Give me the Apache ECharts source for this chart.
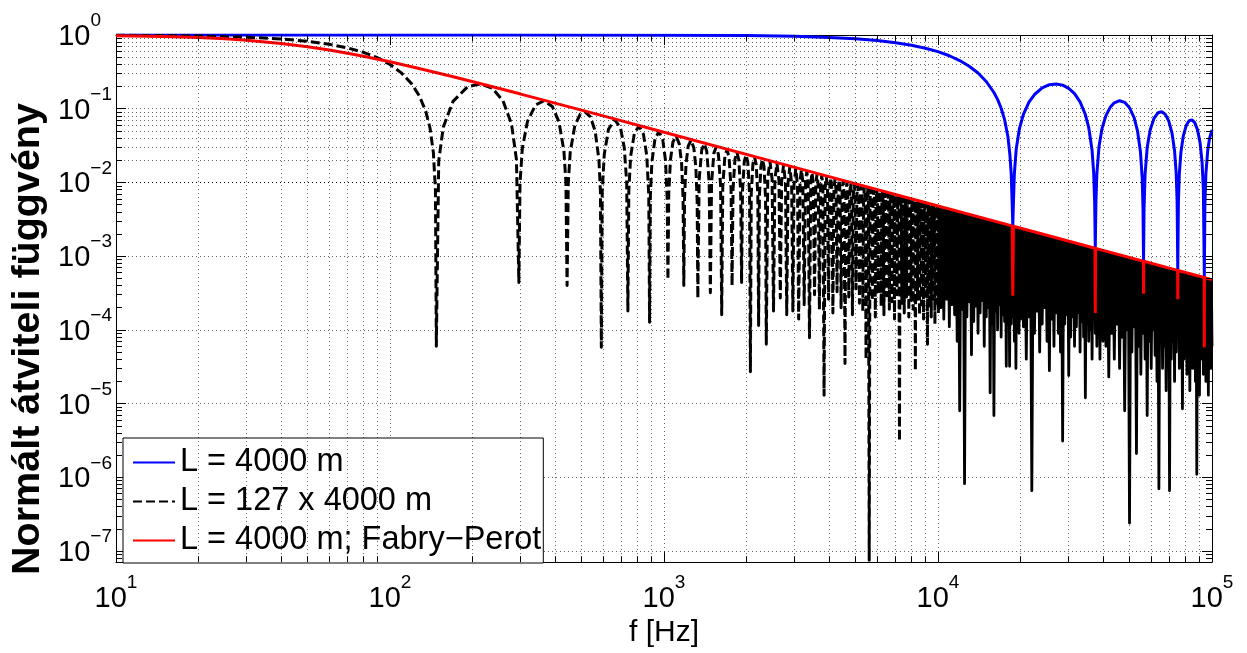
<!DOCTYPE html>
<html><head><meta charset="utf-8">
<script src="https://cdn.jsdelivr.net/npm/echarts@6/dist/echarts.min.js"></script>
<style>html,body{margin:0;padding:0;background:#fff}#c{width:1247px;height:653px}</style>
</head><body><div id="c"></div>
<script>
const FONT = '"Liberation Sans", Arial, Helvetica, sans-serif';

// ---------- text ----------
const legendNames = ['L = 4000 m', 'L = 127 x 4000 m', 'L = 4000 m; Fabry\u2212Perot'];
const xTitle = 'f [Hz]';
const yTitle = 'Normált átviteli függvény';
const xRange = [10, 1e5];
const yRange = [7.08e-8, 1];
const minorMultipliers = [2, 3, 4, 5, 6, 7, 8, 9];
const xDecades = [1, 2, 3, 4];
const yDecades = [-8, -7, -6, -5, -4, -3, -2, -1];

// ---------- data: [f (Hz), value] ----------
const blueLine = [
[10,1],[300,0.9999],[1000,0.9953],[2000,0.981],[3000,0.958],[4000,0.927],[5000,0.887],[6000,0.84],[7000,0.786],[8000,0.726],[9000,0.662],[10000,0.594],[11000,0.523],[12000,0.45],[13000,0.377],[14000,0.305],[15000,0.234],[16000,0.166],[16500,0.134],[17000,0.1015],[17500,0.071],[18000,0.0416],[18300,0.0237],[18500,0.0131],[18650,0.0052],[18750,0.0026],
[18850,0.0053],[19000,0.0132],[19300,0.0285],[19800,0.0528],[20500,0.0841],[21500,0.1234],[22500,0.1559],[24000,0.1916],[25500,0.2118],[27000,0.2171],[28500,0.209],[30000,0.1892],[31500,0.16],[33000,0.1238],[34500,0.0834],[35500,0.0553],[36500,0.0273],[37000,0.0135],[37300,0.0054],[37500,0.0013],
[37700,0.0053],[38000,0.0132],[38700,0.0308],[39700,0.0542],[41000,0.0805],[42500,0.1044],[44000,0.1202],[46000,0.1284],[48000,0.1221],[50000,0.1034],[52000,0.0751],[53500,0.0496],[54800,0.0262],[55600,0.0117],[56000,0.0045],[56250,0.00086],
[56500,0.0044],[57000,0.0131],[58000,0.0297],[59500,0.052],[61500,0.0748],[63500,0.0881],[65500,0.0911],[67500,0.0841],[69500,0.0684],[71500,0.0462],[73000,0.0269],[74000,0.0135],[74600,0.0054],[75000,0.00065],
[75400,0.0053],[76000,0.0131],[77000,0.0255],[78500,0.0421],[80500,0.0591],[82500,0.0688],[84500,0.0706],[86500,0.0647],[88500,0.052],[90500,0.0342],[92000,0.0188],[93000,0.008],[93750,0.00052],
[94200,0.0048],[95000,0.0131],[96500,0.0275],[98000,0.0398],[100000,0.0517]
];

const blackLobes = [
[10,0.9925],[20,0.9701],[30,0.9334],[40,0.8838],[50,0.822],[60,0.7497],[70,0.6691],[80,0.5824],[90,0.4916],[100,0.3989],[110,0.3066],[120,0.2172],[128,0.1491],[135,0.0926],[140,0.0544],[144,0.0253],[146.5,0.0078],[147.6,6e-5],
[150.6,0.0196],[156.5,0.0563],[169.8,0.1257],[191.9,0.1981],[214.1,0.2168],[236.2,0.1892],[258.4,0.1286],[277.6,0.0623],[289.4,0.0204],[295.3,4.4e-4],
[298.2,0.0099],[304.1,0.029],[317.4,0.0672],[339.6,0.112],[364.7,0.1283],[391.3,0.107],[413.4,0.0668],[431.1,0.0271],[438.5,0.0101],[442.9,4.0e-4],
[447.4,0.00989],[454.7,0.0257],[472.4,0.0585],[494.6,0.0847],[513.8,0.0913],[538.9,0.0777],[561.0,0.0492],[578.8,0.0202],[586.1,0.00755],[590.6,5.8e-5],
[595,0.00743],[605.3,0.024],[627.5,0.053],[661.4,0.0709],[693.9,0.0548],[716.1,0.0298],[730.8,0.01006],[738.2,1.8e-4],
[744.1,0.00791],[755.9,0.0229],[779.5,0.0464],[810.5,0.058],[841.5,0.0452],[865.2,0.0231],[879.9,0.00669],[885.8,1.27e-4],
[891.7,0.0066],[903.6,0.01915],[927.2,0.0391],[958.2,0.049],[989.2,0.0384],[1012.8,0.01976],[1027.6,0.00573],[1033.5,4.8e-4],
[1040.9,0.00706],[1055.6,0.0202],[1077.8,0.0353],[1107.3,0.0424],[1136.8,0.0334],[1159,0.0184],[1173.7,0.00626],[1181.1,4.0e-4],
[1188.5,0.00618],[1203.3,0.01773],[1225.4,0.031],[1254.9,0.0374],[1284.5,0.0296],[1306.6,0.01633],[1321.4,0.00556],[1328.8,2.7e-4],
[1343.5,0.01081],[1373.1,0.0277],[1402.6,0.0335],[1432.1,0.02655],[1461.6,0.00994],[1476.4,3.2e-4],
[1491.2,0.00974],[1520.7,0.025],[1550.2,0.0303],[1579.7,0.0241],[1609.3,0.00902],[1624,1.6e-4],
[1638.8,0.00886],[1668.3,0.0228],[1697.9,0.0277],[1727.4,0.022],[1756.9,0.00827],[1771.7,4.0e-4],
[1786.4,0.00813],[1816,0.0209],[1845.5,0.0255],[1875,0.0203],[1904.5,0.00762],[1919.3,4.4e-4],
[1934.1,0.00751],[1963.6,0.01936],[1993.1,0.0236],[2022.7,0.0188],[2052.2,0.00708],[2067,2.7e-5],
[2081.7,0.00698],[2111.3,0.018],[2140.8,0.022],[2170.3,0.01752],[2199.8,0.0066],[2214.6,1.15e-4],
[2229.4,0.00651],[2258.9,0.01683],[2288.4,0.02054],[2318,0.0164],[2347.5,0.00619],[2362.2,6.4e-5],
[2391.8,0.01155],[2436.1,0.01929],[2480.4,0.01114],[2509.9,1.8e-4],
[2539.4,0.01088],[2583.7,0.01819],[2628,0.01051],[2657.5,2.7e-4],
[2687,0.01028],[2731.3,0.01721],[2775.6,0.00995],[2805.2,1.6e-4],
[2834.7,0.00974],[2879,0.01632],[2923.3,0.00945],[2952.8,1.8e-4],
[2982.3,0.00926],[3026.6,0.01553],[3070.9,0.009],[3100.4,1.4e-4]
];

const blackMid = [
[3137.4,0.01059],[3174.3,0.01481],[3211.2,0.01035],[3248.1,2.2e-4],
[3285.0,0.01012],[3321.9,0.01415],[3358.8,0.00989],[3395.7,7.8e-5],
[3432.6,0.00968],[3469.5,0.01355],[3506.4,0.00948],[3543.4,3.0e-4],
[3580.3,0.00928],[3617.2,0.01299],[3654.1,0.00909],[3691.0,1.9e-4],
[3727.9,0.00891],[3764.8,0.01248],[3801.7,0.00874],[3838.6,1.3e-5],
[3875.6,0.00858],[3912.5,0.01201],[3949.4,0.00841],[3986.3,2.6e-4],
[4023.2,0.00826],[4060.1,0.01157],[4097.0,0.00811],[4133.9,1.7e-4],
[4170.8,0.00797],[4207.7,0.01117],[4244.7,0.00783],[4281.6,3.3e-4],
[4318.5,0.0077],[4355.4,0.01079],[4392.3,0.00757],[4429.2,2.0e-4],
[4466.1,0.00744],[4503.0,0.01044],[4540.0,0.00732],[4576.8,3.5e-5],
[4613.8,0.0072],[4650.7,0.01011],[4687.6,0.00709],[4724.5,2.8e-4],
[4761.4,0.00698],[4798.3,0.00979],[4835.2,0.00687],[4872.1,1.6e-4],
[4909.0,0.00677],[4945.9,0.0095],[4982.9,0.00667],[5019.8,3.6e-4],
[5056.7,0.00657],[5093.6,0.00923],[5130.5,0.00648],[5167.4,2.3e-4],
[5204.3,0.00639],[5241.2,0.00897],[5278.1,0.0063],[5315.0,1.8e-4],
[5351.9,0.00621],[5388.9,0.00872],[5425.8,0.00613],[5462.7,4.0e-5],
[5499.6,0.00604],[5536.5,0.00849],[5573.4,0.00596],[5610.3,7.5e-8],
[5647.2,0.00589],[5684.1,0.00827],[5721.1,0.00581],[5758.0,2.5e-4],
[5794.9,0.00574],[5831.8,0.00806],[5868.7,0.00566],[5905.6,1.5e-4],
[5942.5,0.00559],[5979.4,0.00786],[6016.3,0.00552],[6053.2,3.1e-4],
[6090.2,0.00546],[6127.1,0.00767],[6164.0,0.00539],[6200.9,2.1e-4],
[6237.8,0.00533],[6274.7,0.00749],[6311.6,0.00527],[6348.5,1.6e-4],
[6385.4,0.0052],[6422.3,0.00732],[6459.3,0.00515],[6496.2,2.9e-4],
[6533.1,0.00509],[6570.0,0.00715],[6606.9,0.00503],[6643.8,1.9e-4],
[6680.7,0.00497],[6717.6,0.007],[6754.5,0.00492],[6791.4,2.4e-4],
[6828.4,0.00487],[6865.3,0.00685],[6902.2,0.00481],[6939.1,1.4e-4],
[6976.0,0.00476],[7012.9,0.0067],[7049.8,0.00471],[7086.7,3.0e-4],
[7123.6,0.00467],[7160.5,0.00656],[7197.5,0.00462],[7234.4,3.1e-6],
[7271.3,0.00457],[7308.2,0.00643],[7345.1,0.00452],[7382.0,2.2e-4],
[7418.9,0.00448],[7455.8,0.0063],[7492.7,0.00444],[7529.6,1.7e-4],
[7566.6,0.00439],[7603.5,0.00618],[7640.4,0.00435],[7677.3,2.8e-4],
[7714.2,0.00431],[7751.1,0.00606],[7788.0,0.00427],[7824.9,1.5e-4],
[7861.8,0.00423],[7898.7,0.00595],[7935.7,0.00419],[7972.6,2.5e-4],
[8009.5,0.00415],[8046.4,0.00584],[8083.3,0.00411],[8120.2,1.9e-4],
[8157.1,0.00407],[8194.0,0.00574],[8230.9,0.00404],[8267.8,2.8e-5],
[8304.8,0.004],[8341.7,0.00563],[8378.6,0.00397],[8415.5,2.6e-4],
[8452.4,0.00393],[8489.3,0.00554],[8526.2,0.0039],[8563.1,1.6e-4],
[8600.0,0.00386],[8636.9,0.00544],[8673.9,0.00383],[8710.8,2.2e-4],
[8747.7,0.0038],[8784.6,0.00535],[8821.5,0.00377],[8858.4,1.4e-4],
[8895.3,0.00374],[8932.2,0.00526],[8969.1,0.00371],[9006.0,2.9e-4],
[9043.0,0.00368],[9079.9,0.00518],[9116.8,0.00365],[9153.7,6.4e-5],
[9190.6,0.00362],[9227.5,0.00509],[9264.4,0.00359],[9301.3,2.0e-4],
[9338.2,0.00356],[9375.1,0.00501],[9412.1,0.00353],[9449.0,1.5e-4],
[9485.9,0.0035],[9522.8,0.00493],[9559.7,0.00348],[9596.6,2.6e-4],
[9633.5,0.00345],[9670.4,0.00486],[9707.3,0.00342],[9744.2,1.2e-4],
[9781.2,0.0034],[9818.1,0.00479],[9855.0,0.00337],[9891.9,2.3e-4],
[9928.8,0.00335],[9965.7,0.00472],[10002.6,0.00332],[10039.5,1.7e-4]
];

const blackDense = [
[10039.5,1.7e-4],
[10125,4.64e-3],[10250,2.0e-4],[10375,4.53e-3],[10500,1.4e-4],[10625,4.42e-3],[10750,2.6e-4],[10875,4.32e-3],[11000,1.1e-4],
[11125,4.22e-3],[11250,2.2e-4],[11375,4.13e-3],[11500,1.6e-4],[11625,4.04e-3],[11750,7e-5],[11875,3.96e-3],[12000,8e-6],
[12125,3.88e-3],[12250,1.9e-4],[12375,3.8e-3],[12500,8.2e-7],[12625,3.72e-3],[12750,1.5e-4],[12875,3.65e-3],[13000,2.4e-4],
[13125,3.58e-3],[13250,4.6e-5],[13375,3.51e-3],[13500,1.3e-4],[13625,3.45e-3],[13750,2.1e-4],[13875,3.39e-3],[14000,9e-5],
[14125,3.33e-3],[14250,1.7e-4],[14375,3.27e-3],[14500,2.5e-4],[14625,3.21e-3],[14750,6e-5],[14875,3.16e-3],[15000,1.5e-4],
[15125,3.11e-3],[15250,2.0e-4],[15375,3.06e-3],[15500,1.4e-5],[15625,3.01e-3],[15750,1.2e-4],[15875,2.96e-3],[16000,6.9e-6],
[16125,2.91e-3],[16250,1.8e-4],[16375,2.87e-3],[16500,1.0e-4],[16625,2.83e-3],[16750,2.2e-4],[16875,2.79e-3],[17000,8e-5],
[17125,2.74e-3],[17250,1.6e-4],[17375,2.71e-3],[17500,1.3e-4],[17625,2.67e-3],[17750,3.2e-5],[17875,2.63e-3],[18000,1.9e-4],
[18125,2.59e-3],[18250,3.2e-5],[18375,2.56e-3],[18500,1.2e-4],[18625,2.52e-3],[18750,1.5e-4],[18875,2.49e-3],[19000,7e-5],
[19125,2.46e-3],[19250,3.0e-5],[19375,2.43e-3],[19500,1.6e-4],[19625,2.39e-3],[19750,9e-5],[19875,2.36e-3],[20000,1.4e-4],
[20250,2.32e-3],[20500,1.1e-4],[20750,2.27e-3],[21000,4e-5],[21250,2.21e-3],[21500,1.5e-4],[21750,2.16e-3],[22000,6.6e-7],
[22250,2.11e-3],[22500,9e-5],[22750,2.07e-3],[23000,1.8e-4],[23250,2.02e-3],[23500,5e-5],[23750,1.98e-3],[24000,1.2e-4],
[24250,1.94e-3],[24500,2.0e-4],[24750,1.9e-3],[25000,7e-5],[25250,1.86e-3],[25500,2.8e-5],[25750,1.83e-3],[26000,1.4e-4],
[26250,1.79e-3],[26500,6e-5],[26750,1.76e-3],[27000,1.7e-4],[27250,1.72e-3],[27500,9e-5],[27750,1.69e-3],[28000,5e-5],
[28250,1.66e-3],[28500,3.1e-6],[28750,1.63e-3],[29000,1.2e-4],[29250,1.61e-3],[29500,1.6e-4],[29750,1.58e-3],[30000,2.4e-5],
[30250,1.55e-3],[30500,8e-5],[30750,1.53e-3],[31000,1.5e-4],[31250,1.5e-3],[31500,6e-5],[31750,1.48e-3],[32000,1.1e-4],
[32250,1.46e-3],[32500,1.7e-4],[32750,1.44e-3],[33000,5e-5],[33250,1.41e-3],[33500,1.3e-4],[33750,1.39e-3],[34000,8e-5],
[34250,1.37e-3],[34500,1.2e-5],[34750,1.35e-3],[35000,1.4e-4],[35250,1.33e-3],[35500,7e-5],[35750,1.31e-3],[36000,1.0e-4],
[36250,1.3e-3],[36500,4e-5],[36750,1.28e-3],[37000,1.5e-4],[37250,1.26e-3],[37500,9e-5],[37750,1.25e-3],[38000,6e-5],
[38250,1.23e-3],[38500,1.3e-4],[38750,1.21e-3],[39000,4e-5],[39250,1.2e-3],[39500,1.1e-4],[39750,1.18e-3],[40000,7e-5],
[40500,1.16e-3],[41000,6e-5],[41500,1.13e-3],[42000,2.3e-5],[42500,1.11e-3],[43000,9e-5],[43500,1.08e-3],[44000,4e-5],
[44500,1.06e-3],[45000,1.2e-4],[45500,1.03e-3],[46000,3e-5],[46500,1.01e-3],[47000,8e-5],[47500,9.9e-4],[48000,8e-6],
[48500,9.7e-4],[49000,1.0e-4],[49500,9.5e-4],[50000,2.4e-7],[50500,9.3e-4],[51000,5e-5],[51500,9.1e-4],[52000,1.1e-4],
[52500,8.95e-4],[53000,2.1e-6],[53500,8.8e-4],[54000,6e-5],[54500,8.6e-4],[55000,2.5e-5],[55500,8.5e-4],[56000,9e-5],
[56500,8.3e-4],[57000,4e-5],[57500,8.2e-4],[58000,6.9e-6],[58500,8.0e-4],[59000,7e-5],[59500,7.9e-4],[60000,3e-5],
[60500,7.8e-4],[61000,1.0e-4],[61500,7.6e-4],[62000,4.5e-5],[62500,7.5e-4],[63000,2e-5],[63500,7.4e-4],[64000,7e-7],
[64500,7.3e-4],[65000,8e-5],[65500,7.2e-4],[66000,3e-5],[66500,7.1e-4],[67000,6e-5],[67500,7.0e-4],[68000,1.5e-5],
[68500,6.9e-4],[69000,9e-5],[69500,6.8e-4],[70000,6.6e-7],[70500,6.7e-4],[71000,4e-5],[71500,6.6e-4],[72000,7e-5],
[72500,6.5e-4],[73000,2e-5],[73500,6.4e-4],[74000,5e-5],[74500,6.3e-4],[75000,8e-5],[75500,6.2e-4],[76000,3e-5],
[76500,6.15e-4],[77000,6e-5],[77500,6.1e-4],[78000,8.5e-6],[78500,6.0e-4],[79000,4e-5],[79500,5.9e-4],[80000,7e-5],
[80500,5.85e-4],[81000,2.5e-5],[81500,5.8e-4],[82000,5e-5],[82500,5.7e-4],[83000,1.5e-5],[83500,5.6e-4],[84000,6e-5],
[84500,5.55e-4],[85000,3e-5],[85500,5.5e-4],[86000,8e-5],[86500,5.45e-4],[87000,2e-5],[87500,5.4e-4],[88000,1.1e-6],
[88500,5.3e-4],[89000,5e-5],[89500,5.25e-4],[90000,1.3e-5],[90500,5.2e-4],[91000,4e-5],[91500,5.15e-4],[92000,6e-5],
[92500,5.1e-4],[93000,2.5e-5],[93500,5.0e-4],[94000,5e-5],[94500,4.97e-4],[95000,2e-5],[95500,4.92e-4],[96000,4e-5],
[96500,4.87e-4],[97000,1.3e-5],[97500,4.82e-4],[98000,5e-5],[98500,4.77e-4],[99000,3e-5],[99500,4.72e-4],[100000,6e-5]
];

const redLine = [
[10,0.977],[15,0.954],[20,0.923],[25,0.887],[30,0.848],[40,0.768],[50,0.692],[60,0.625],[70,0.566],[80,0.515],[100,0.433],[130,0.346],[170,0.272],[220,0.213],[300,0.158],[400,0.119],[600,0.08],[1000,0.048],[3000,0.016],[10000,0.0048],
[18650,0.002574],[18750,2.9e-4],[18850,0.002546],[37400,0.001283],[37500,1.7e-4],[37600,0.001277],[56150,8.55e-4],[56250,3.1e-4],[56350,8.52e-4],
[74900,6.41e-4],[75000,2.6e-4],[75100,6.39e-4],[93650,5.13e-4],[93750,5.8e-5],[93850,5.11e-4],[100000,4.8e-4]
];

// ---------- helpers ----------
function expOf(v) {
  const e = Math.log10(v), r = Math.round(e);
  return Math.abs(e - r) > 1e-6 ? null : r;
}
function xLabel(v) {
  const r = expOf(v);
  if (r === null) return '';
  return '{b|10}{s|' + (r < 0 ? '\u2212' + (-r) : String(r)) + '}';
}
function yLabel(v) {
  const r = expOf(v);
  if (r === null) return '';
  return r < 0 ? '{b|10}{s|\u2212' + (-r) + '}' : '{b|10}{sp|' + r + '}';
}
const rich = {
  b: {fontSize: 29, fontFamily: FONT, color: '#000', lineHeight: 40, verticalAlign: 'bottom'},
  s: {fontSize: 19, fontFamily: FONT, color: '#000', lineHeight: 19, verticalAlign: 'top'},
  sp: {fontSize: 19, fontFamily: FONT, color: '#000', lineHeight: 19, verticalAlign: 'top', padding: [0, 11, 0, 0]}
};
const dotted = {color: '#000', width: 1, type: [1, 3], opacity: 0.6};

const xMinor = [], yMinor = [];
xDecades.forEach(d => minorMultipliers.forEach(m => xMinor.push(m * Math.pow(10, d))));
yDecades.forEach(d => minorMultipliers.forEach(m => { const v = m * Math.pow(10, d); if (v > yRange[0]) yMinor.push(v); }));

const gridLines = xMinor.map(v => ({xAxis: v})).concat(yMinor.map(v => ({yAxis: v})));
const yTickK = Math.pow(10, 6 / 74.4), xTickK = Math.pow(10, 6 / 274);
const tickSegs = [];
xMinor.forEach(v => {
  tickSegs.push([{coord: [v, yRange[0]]}, {coord: [v, yRange[0] * yTickK]}]);
  tickSegs.push([{coord: [v, yRange[1]]}, {coord: [v, yRange[1] / yTickK]}]);
});
yMinor.forEach(v => {
  tickSegs.push([{coord: [xRange[0], v]}, {coord: [xRange[0] * xTickK, v]}]);
  tickSegs.push([{coord: [xRange[1], v]}, {coord: [xRange[1] / xTickK, v]}]);
});

const axisLineStyle = {show: true, lineStyle: {color: '#000', width: 1}};
const tickStyle = {show: true, inside: true, length: 10, lineStyle: {color: '#000', width: 1}};

const chart = echarts.init(document.getElementById('c'), null, {renderer: 'canvas'});
chart.setOption({
  animation: false,
  backgroundColor: '#fff',
  textStyle: {fontFamily: FONT},
  grid: {left: 116, right: 35, top: 35, bottom: 86, containLabel: false},
  legend: {
    data: legendNames, orient: 'vertical', left: 123, top: 438,
    backgroundColor: '#fff', borderColor: '#000', borderWidth: 1, borderRadius: 0,
    padding: [8, 2, 6, 9], itemWidth: 42, itemHeight: 14, itemGap: 6, selectedMode: false,
    itemStyle: {opacity: 0},
    textStyle: {fontSize: 32.5, fontFamily: FONT, color: '#000', lineHeight: 33}
  },
  graphic: [{
    type: 'text', x: 28, y: 339, rotation: Math.PI / 2, silent: true,
    style: {text: yTitle, fill: '#000', font: 'bold 39.5px ' + FONT, align: 'center', verticalAlign: 'middle'}
  }],
  xAxis: [
    {type: 'log', logBase: 10, min: xRange[0], max: xRange[1], position: 'bottom',
     axisLine: axisLineStyle, axisTick: tickStyle,
     axisLabel: {margin: 11, formatter: xLabel, rich: rich},
     splitLine: {show: true, lineStyle: dotted},
     name: xTitle, nameLocation: 'middle', nameGap: 50,
     nameTextStyle: {fontSize: 30, fontFamily: FONT, color: '#000'}},
    {type: 'log', logBase: 10, min: xRange[0], max: xRange[1], position: 'top',
     axisLine: axisLineStyle, axisTick: tickStyle, axisLabel: {show: false}, splitLine: {show: false}}
  ],
  yAxis: [
    {type: 'log', logBase: 10, min: yRange[0], max: yRange[1], position: 'left',
     axisLine: axisLineStyle, axisTick: tickStyle,
     axisLabel: {margin: 4, formatter: yLabel, rich: rich, padding: [0, 0, 7, 0]},
     splitLine: {show: true, lineStyle: dotted}},
    {type: 'log', logBase: 10, min: yRange[0], max: yRange[1], position: 'right',
     axisLine: axisLineStyle, axisTick: tickStyle, axisLabel: {show: false}, splitLine: {show: false}}
  ],
  series: [
    {name: 'gridlines', type: 'line', data: [], silent: true,
     markLine: {silent: true, animation: false, symbol: ['none', 'none'], label: {show: false},
                lineStyle: dotted, emphasis: {disabled: true}, data: gridLines}},
    {name: legendNames[0], type: 'line', data: blueLine, symbol: 'none', silent: true,
     lineStyle: {color: '#0000ff', width: 3}, itemStyle: {color: '#0000ff'}},
    {name: legendNames[1], type: 'line', data: blackLobes.concat(blackMid), symbol: 'none', silent: true,
     lineStyle: {color: '#000', width: 3, type: [9, 4], join: 'round'}, itemStyle: {color: '#000'}},
    {name: legendNames[1], type: 'line', data: blackDense, symbol: 'none', silent: true,
     lineStyle: {color: '#000', width: 2.8, type: 'solid', join: 'round'}, itemStyle: {color: '#000'}},
    {name: legendNames[2], type: 'line', data: redLine, symbol: 'none', silent: true,
     lineStyle: {color: '#ff0000', width: 3}, itemStyle: {color: '#ff0000'}},
    {name: 'minorticks', type: 'line', data: [], silent: true,
     markLine: {silent: true, animation: false, symbol: ['none', 'none'], label: {show: false},
                lineStyle: {color: '#000', width: 1, type: 'solid'}, emphasis: {disabled: true}, data: tickSegs}}
  ]
});
</script></body></html>
